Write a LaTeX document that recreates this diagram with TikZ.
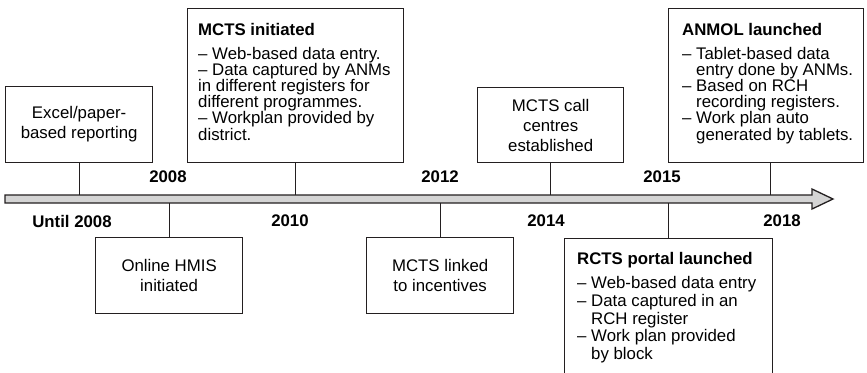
\documentclass[tikz,border=0pt]{standalone}
\usepackage{fontspec}
\setmainfont{Liberation Sans}
\usetikzlibrary{arrows}
\definecolor{barfill}{RGB}{212,212,212}
\definecolor{linecol}{RGB}{35,31,32}
\tikzset{
  box/.style={draw=linecol, line width=1.3pt, inner sep=0pt, anchor=north west,
    align=center, font={\fontsize{16.8}{20}\selectfont}},
  lst/.style={inner sep=0pt, anchor=north west, align=left,
    font={\fontsize{16.8}{16.2}\selectfont}},
  yr/.style={inner sep=0pt, font={\fontsize{16.8}{18}\selectfont\bfseries}},
  conn/.style={draw=linecol, line width=1.3pt}
}
\newcommand{\hng}{\phantom{-- }}
\begin{document}
\begin{tikzpicture}[x=1pt, y=-1pt]
  \useasboundingbox (0,0) rectangle (867,372);
  \clip (0,0) rectangle (867,372);
  \coordinate (bartop) at (0,195);
  \coordinate (barbot) at (0,203);
  \draw[conn, fill=barfill] (5,195) -- (812,195) -- (812,189) -- (833,199)
    -- (812,209) -- (812,203) -- (5,203) -- cycle;

  \node[box, minimum width=147, minimum height=76] (excel) at (5,86) {Excel/paper-\\based reporting};
  \node[box, minimum width=216, minimum height=154] (mctsinit) at (187,8) {};
  \node[lst] (mctsinittxt) at (198,23) {\textbf{MCTS initiated}\\[7.6pt]
    -- Web-based data entry.\\
    -- Data captured by ANMs\\
    in different registers for\\
    different programmes.\\
    -- Workplan provided by\\
    district.};
  \node[box, minimum width=146, minimum height=75] (callc) at (477,87) {MCTS call\\centres\\established};
  \node[box, minimum width=195, minimum height=154] (anmol) at (668,8) {};
  \node[lst] (anmoltxt) at (682,23) {\textbf{ANMOL launched}\\[7.6pt]
    -- Tablet-based data\\
    \hng entry done by ANMs.\\
    -- Based on RCH\\
    \hng recording registers.\\
    -- Work plan auto\\
    \hng generated by tablets.};

  \node[box, minimum width=147, minimum height=76] (hmis) at (95,237) {Online HMIS\\initiated};
  \node[box, minimum width=147, minimum height=76] (linked) at (366,237) {MCTS linked\\to incentives};
  \node[box, minimum width=208, minimum height=150] (rcts) at (564,238) {};
  \node[lst, font={\fontsize{16.8}{17.6}\selectfont}] (rctstxt) at (577,252) {\textbf{RCTS portal launched}\\[7pt]
    -- Web-based data entry\\
    -- Data captured in an\\
    \hng RCH register\\
    -- Work plan provided\\
    \hng by block};

  \draw[conn] (excel.south) -- (excel.south |- bartop);
  \draw[conn] (mctsinit.south) -- (mctsinit.south |- bartop);
  \draw[conn] (callc.south) -- (callc.south |- bartop);
  \draw[conn] ([xshift=4pt]anmol.south) -- ([xshift=4pt]anmol.south |- bartop);
  \draw[conn] (hmis.north) -- (hmis.north |- barbot);
  \draw[conn] (linked.north) -- (linked.north |- barbot);
  \draw[conn] (rcts.north) -- (rcts.north |- barbot);

  \node[yr] (y2008) at (168,177) {2008};
  \node[yr] (y2012) at (440,177) {2012};
  \node[yr] (y2015) at (662,177) {2015};
  \node[yr] (yuntil) at (72,221) {Until 2008};
  \node[yr] (y2010) at (290,221) {2010};
  \node[yr] (y2014) at (546,221) {2014};
  \node[yr] (y2018) at (782,221) {2018};
\end{tikzpicture}
\end{document}
